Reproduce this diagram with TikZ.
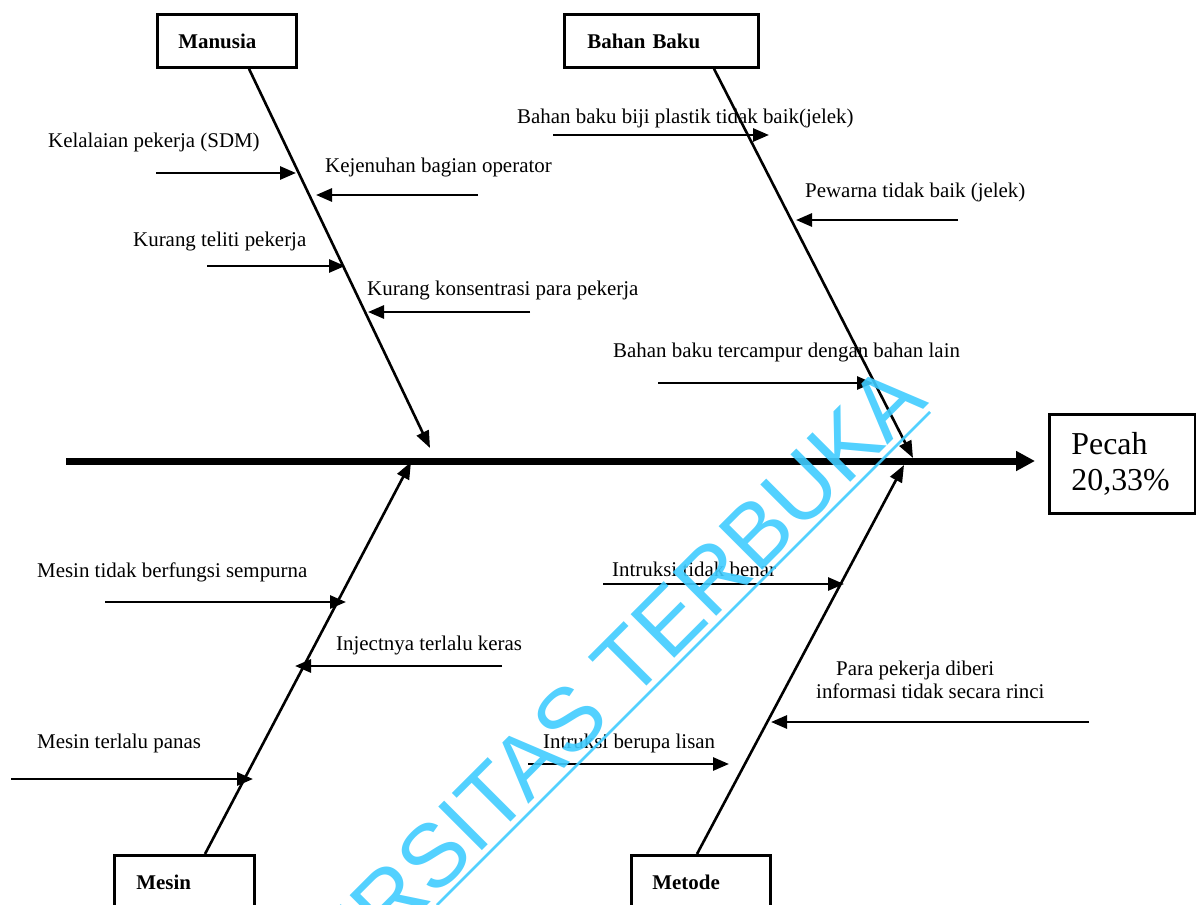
\documentclass[tikz,border=0pt]{standalone}
\usepackage{fontspec}
\setmainfont{Liberation Serif}
\newfontfamily\wmfont{Liberation Sans}
\usetikzlibrary{arrows.meta}
\definecolor{wmcyan}{RGB}{64,204,255}

\begin{document}
\begin{tikzpicture}[x=1bp,y=-1bp,
  lbl/.style={anchor=base west, inner sep=0pt, font=\fontsize{21}{25}\selectfont},
  catbox/.style={draw, line width=2.8bp, anchor=north west, minimum height=53bp,
    inner ysep=0pt, align=left, font=\fontsize{21}{25}\selectfont\bfseries},
  bone/.style={line width=2.6bp, -{Triangle[length=17bp,width=13bp]}},
  twig/.style={line width=2.8bp, -{Triangle[length=16bp,width=13bp]}},
  spine/.style={line width=7bp, -{Triangle[length=19bp,width=19bp]}}]
\useasboundingbox (0,0) rectangle (1196,905);

% main spine and effect box
\coordinate (tail) at (66,461);
\coordinate (head) at (1035,461);
\draw[spine] (tail) -- (head);
\node[draw, line width=2.8bp, anchor=north west, minimum width=146bp, minimum height=99bp,
  text width=102bp, inner xsep=22bp, inner ysep=0pt, align=left,
  font=\fontsize{32}{37}\selectfont] (effect) at (1048,413) {Pecah\\20,33\%};

% category boxes
\node[catbox, text width=97bp, inner xsep=21bp] (man) at (156,13) {Manusia};
\node[catbox, text width=148bp, inner xsep=23bp] (bahan) at (563,13) {Bahan Baku};
\node[catbox, text width=96bp, inner xsep=22bp] (mesin) at (113,854) {Mesin};
\node[catbox, text width=97bp, inner xsep=21bp] (metode) at (630,854) {Metode};

% main bones
\coordinate (manTip) at (430,448);
\coordinate (bahanTip) at (913,458);
\coordinate (mesinTip) at (411,462);
\coordinate (metodeTip) at (904,465);
\draw[bone] ([xshift=93bp]man.south west) -- (manTip);
\draw[bone] ([xshift=151bp]bahan.south west) -- (bahanTip);
\draw[bone] ([xshift=92bp]mesin.north west) -- (mesinTip);
\draw[bone] ([xshift=67bp]metode.north west) -- (metodeTip);

% Manusia causes
\node[lbl] (m1) at (48,147) {Kelalaian pekerja (SDM)};
\node[lbl] (m2) at (325,172) {Kejenuhan bagian operator};
\node[lbl] (m3) at (133,246) {Kurang teliti pekerja};
\node[lbl] (m4) at (367,295) {Kurang konsentrasi para pekerja};
\coordinate (m1a) at (156,173); \coordinate (m1b) at (296,173);
\coordinate (m2a) at (478,195); \coordinate (m2b) at (316,195);
\coordinate (m3a) at (207,266); \coordinate (m3b) at (345,266);
\coordinate (m4a) at (530,312); \coordinate (m4b) at (368,312);
\draw[twig] (m1a) -- (m1b);
\draw[twig] (m2a) -- (m2b);
\draw[twig] (m3a) -- (m3b);
\draw[twig] (m4a) -- (m4b);

% Bahan Baku causes
\node[lbl] (b1) at (517,123) {Bahan baku biji plastik tidak baik(jelek)};
\node[lbl] (b2) at (805,197) {Pewarna tidak baik (jelek)};
\node[lbl] (b3) at (613,357) {Bahan baku tercampur dengan bahan lain};
\coordinate (b1a) at (553,135); \coordinate (b1b) at (769,135);
\coordinate (b2a) at (958,220); \coordinate (b2b) at (796,220);
\coordinate (b3a) at (658,383); \coordinate (b3b) at (873,383);
\draw[twig] (b1a) -- (b1b);
\draw[twig] (b2a) -- (b2b);
\draw[twig] (b3a) -- (b3b);

% Mesin causes
\node[lbl] (s1) at (37,577) {Mesin tidak berfungsi sempurna};
\node[lbl] (s2) at (336,650) {Injectnya terlalu keras};
\node[lbl] (s3) at (37,748) {Mesin terlalu panas};
\coordinate (s1a) at (105,602); \coordinate (s1b) at (346,602);
\coordinate (s2a) at (502,666); \coordinate (s2b) at (295,666);
\coordinate (s3a) at (11,779);  \coordinate (s3b) at (253,779);
\draw[twig] (s1a) -- (s1b);
\draw[twig] (s2a) -- (s2b);
\draw[twig] (s3a) -- (s3b);

% Metode causes
\node[lbl] (t1) at (612,576) {Intruksi tidak benar};
\node[lbl] (t2) at (836,675) {Para pekerja diberi};
\node[lbl] (t2b) at (816,698) {informasi tidak secara rinci};
\node[lbl] (t3) at (543,748) {Intruksi berupa lisan};
\coordinate (t1a) at (603,584); \coordinate (t1b) at (844,584);
\coordinate (t2a) at (1089,722); \coordinate (t2b') at (771,722);
\coordinate (t3a) at (528,764); \coordinate (t3b) at (729,764);
\draw[twig] (t1a) -- (t1b);
\draw[twig] (t2a) -- (t2b');
\draw[twig] (t3a) -- (t3b);

% watermark
\begin{scope}
  \clip (0,0) rectangle (1196,905);
  \node[rotate=45, anchor=base east, inner sep=0pt, text=wmcyan, opacity=0.9,
    font=\wmfont\fontsize{90}{90}\selectfont] (wm) at (930,403) {UNIVERSITAS TERBUKA};
  \draw[wmcyan, opacity=0.9, line width=2.5bp] (930,412) -- (437,905);
\end{scope}
\end{tikzpicture}
\end{document}
